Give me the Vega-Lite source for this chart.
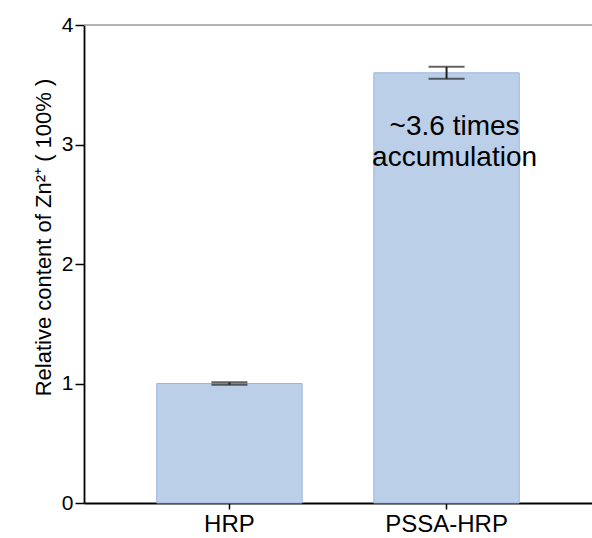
{
  "$schema": "https://vega.github.io/schema/vega-lite/v6.json",
  "width": 508,
  "height": 478,
  "autosize": {"type": "none"},
  "padding": {"left": 84, "top": 25, "right": 0, "bottom": 35},
  "config": {
    "view": {"stroke": null},
    "font": "Liberation Sans",
    "axis": {"grid": false, "domainColor": "#000", "tickColor": "#000", "labelColor": "#000", "titleColor": "#000", "labelFont": "Liberation Sans", "titleFont": "Liberation Sans", "titleFontWeight": "normal", "domainWidth": 1.8, "tickWidth": 1.5}
  },
  "data": {
    "values": [
      {"group": "HRP", "value": 1.0, "lo": 0.99, "hi": 1.01, "note": ""},
      {"group": "PSSA-HRP", "value": 3.6, "lo": 3.55, "hi": 3.65, "note": "~3.6 times\naccumulation"}
    ]
  },
  "encoding": {
    "x": {
      "field": "group", "type": "nominal", "sort": null,
      "scale": {"paddingInner": 0.33, "paddingOuter": 0.335},
      "axis": {"title": null, "labelAngle": 0, "labelFontSize": 24, "labelPadding": 3, "tickSize": 6}
    }
  },
  "layer": [
    {
      "mark": {"type": "rule", "color": "#9a9a9a", "strokeWidth": 1.2},
      "encoding": {"x": null, "y": {"datum": 4, "type": "quantitative"}}
    },
    {
      "mark": {"type": "bar", "fill": "#bccfe8", "stroke": "#9fb4df", "strokeWidth": 1},
      "encoding": {
        "y": {
          "field": "value", "type": "quantitative",
          "scale": {"domain": [0, 4], "nice": false},
          "axis": {"values": [0, 1, 2, 3, 4], "format": "d", "title": "Relative content of Zn²⁺ ( 100% )", "titleFontSize": 22, "titleAngle": 270, "titleBaseline": "alphabetic", "titleAlign": "center", "titleX": -34, "titleY": 212, "labelFontSize": 21, "tickSize": 9, "labelPadding": 2}
        }
      }
    },
    {
      "mark": {"type": "rule", "color": "#222", "strokeWidth": 2},
      "encoding": {"y": {"field": "lo", "type": "quantitative"}, "y2": {"field": "hi"}}
    },
    {
      "mark": {"type": "tick", "color": "#222", "thickness": 2, "size": 36},
      "encoding": {"y": {"field": "lo", "type": "quantitative"}}
    },
    {
      "mark": {"type": "tick", "color": "#222", "thickness": 2, "size": 36},
      "encoding": {"y": {"field": "hi", "type": "quantitative"}}
    },
    {
      "mark": {"type": "text", "fontSize": 28, "lineBreak": "\n", "lineHeight": 31, "baseline": "alphabetic", "align": "center", "dx": 8, "color": "#000"},
      "encoding": {"y": {"datum": 3.08, "type": "quantitative"}, "text": {"field": "note"}}
    }
  ]
}
